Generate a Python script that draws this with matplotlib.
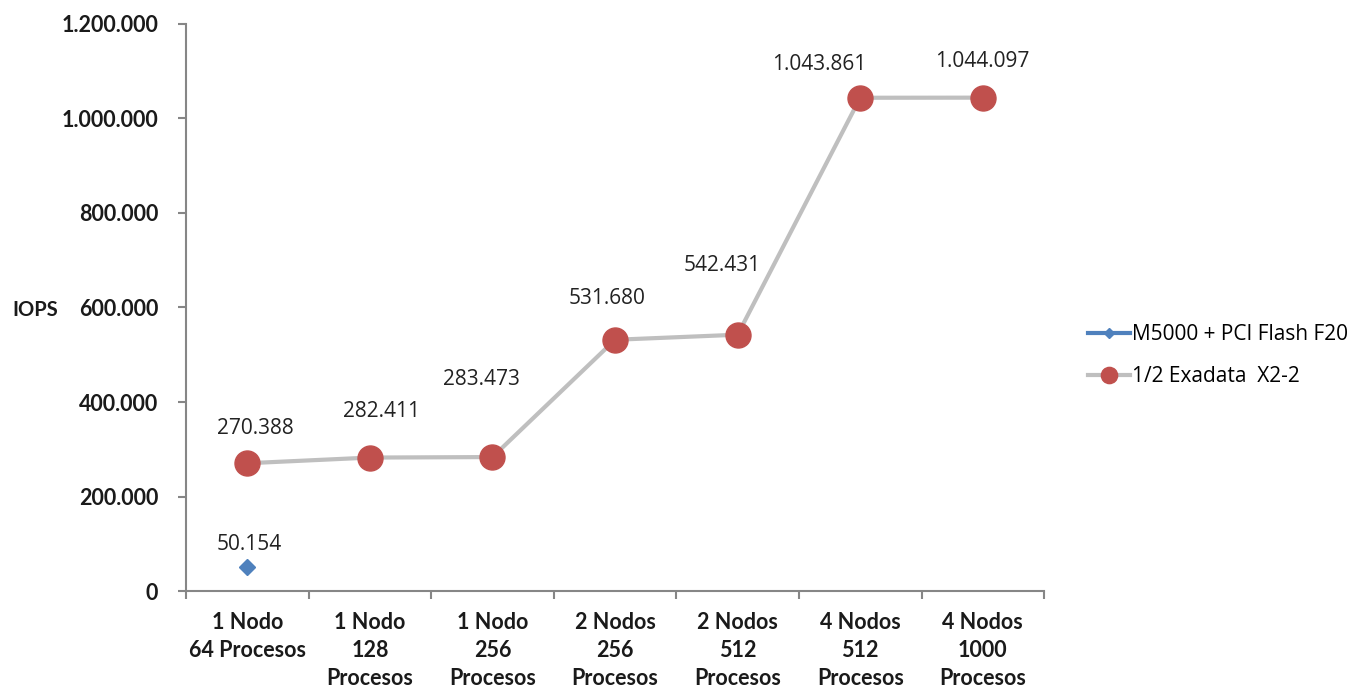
import numpy as np
import matplotlib.pyplot as plt
from matplotlib.ticker import FuncFormatter, FixedLocator

# Categorias (nodos / procesos)
categorias = ['1 Nodo\n64 Procesos', '1 Nodo\n128\nProcesos', '1 Nodo\n256\nProcesos',
              '2 Nodos\n256\nProcesos', '2 Nodos\n512\nProcesos', '4 Nodos\n512\nProcesos',
              '4 Nodos\n1000\nProcesos']
m5000 = [50154]
exadata = [270388, 282411, 283473, 531680, 542431, 1043861, 1044097]

# desplazamiento de las etiquetas (pixeles)
off_m5000 = [(2, 23)]
off_exadata = [(8, 35), (12, 46), (-11, 78), (-8, 41), (-15, 69), (-41, 33), (-1, 36)]


def miles(v, pos=None):
    return '{:,}'.format(int(v)).replace(',', '.')


fig = plt.figure(figsize=(13.5, 6.91), dpi=100)
ax = fig.add_axes([0.1378, 0.1447, 0.6356, 0.8206])

x = np.arange(len(categorias)) + 0.5
ax.plot(x[:len(m5000)], m5000, color='#4F81BD', linewidth=3, marker='D',
        markersize=8, label='M5000 + PCI Flash F20')
ax.plot(x, exadata, color='#BFBFBF', linewidth=3, marker='o', markersize=18,
        markerfacecolor='#C0504D', markeredgecolor='#C0504D', label='1/2 Exadata  X2-2')

for xi, v, (dx, dy) in zip(x, m5000, off_m5000):
    ax.annotate(miles(v), (xi, v), xytext=(dx, dy), textcoords='offset pixels',
                ha='center', va='center', fontsize=15, family='Open Sans', color='#222222')
for xi, v, (dx, dy) in zip(x, exadata, off_exadata):
    ax.annotate(miles(v), (xi, v), xytext=(dx, dy), textcoords='offset pixels',
                ha='center', va='center', fontsize=15, family='Open Sans', color='#222222')

ax.set_xlim(0, len(categorias))
ax.set_ylim(0, 1200000)
ax.set_yticks(np.arange(0, 1200001, 200000))
ax.yaxis.set_major_formatter(FuncFormatter(miles))
ax.xaxis.set_major_locator(FixedLocator(np.arange(len(categorias) + 1)))
ax.xaxis.set_major_formatter(FuncFormatter(lambda v, p: ''))
ax.xaxis.set_minor_locator(FixedLocator(x))
ax.set_xticklabels(categorias, minor=True)

for s in ['top', 'right']:
    ax.spines[s].set_visible(False)
for s in ['left', 'bottom']:
    ax.spines[s].set_color('#868686')
    ax.spines[s].set_linewidth(1.5)
ax.tick_params(axis='both', which='major', color='#868686', length=6, width=1.5)
ax.tick_params(axis='y', labelsize=15.5, pad=14)
ax.tick_params(axis='x', which='minor', length=0, labelsize=15.5, pad=15)
for lbl in ax.get_yticklabels() + ax.get_xticklabels(minor=True):
    lbl.set_fontweight('bold')
    lbl.set_family('Lato')
    lbl.set_color('#1a1a1a')
for lbl in ax.get_xticklabels(minor=True):
    lbl.set_linespacing(1.42)

fig.text(0.009, 0.551, 'IOPS', fontsize=14.5, fontweight='bold', family='Lato',
         ha='left', va='center', color='#1a1a1a')

fig.legend(loc='center left', bbox_to_anchor=(0.792, 0.485), frameon=False,
           prop={'family': 'Open Sans', 'size': 15}, handlelength=2.0,
           labelspacing=1.0, handletextpad=0.1, markerscale=0.65)

fig.savefig('out.png', dpi=100)
